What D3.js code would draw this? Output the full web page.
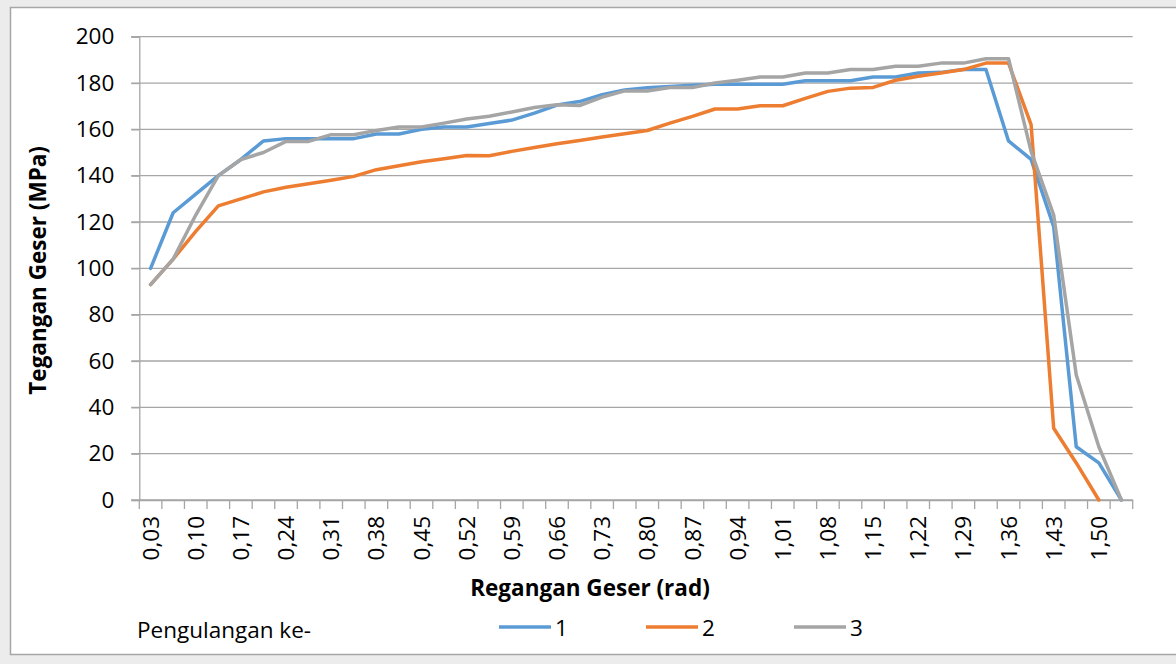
<!DOCTYPE html>
<html>
<head>
<meta charset="utf-8">
<script src="https://cdn.jsdelivr.net/npm/d3@7/dist/d3.min.js"></script>
<style>
  html, body { margin: 0; padding: 0; background: #ececec; }
  svg { display: block; }
</style>
</head>
<body>
<svg id="chart" width="1176" height="664"></svg>
<script>
const categories = ["0,03","0,07","0,10","0,14","0,17","0,21","0,24","0,28","0,31","0,35","0,38","0,42","0,45","0,49","0,52","0,56","0,59","0,63","0,66","0,70","0,73","0,77","0,80","0,84","0,87","0,91","0,94","0,98","1,01","1,05","1,08","1,12","1,15","1,19","1,22","1,26","1,29","1,33","1,36","1,40","1,43","1,47","1,50","1,54"];
const series1 = [100,124,132,140,147,155,156,156,156,156,158,158,160,161,161,162.5,164,167,170.5,172,175,177,178,178.5,179,179.5,179.5,179.5,179.5,181,181,181,182.6,182.6,184.3,184.6,185.8,185.8,155,147,118,23,16,0];
const series2 = [93,104,116,127,130,133,135,136.5,138,139.7,142.6,144.3,146,147.3,148.7,148.6,150.5,152.2,153.8,155.2,156.7,158.1,159.5,162.7,165.6,168.8,168.8,170.2,170.2,173.4,176.4,177.8,178.1,181.2,182.9,184.3,185.8,188.6,188.6,162,31,16,0,null];
const series3 = [93,104,123,140,147,150,154.8,154.8,157.7,157.7,159.5,161,161,162.7,164.5,165.7,167.5,169.4,170.6,170.3,173.9,176.6,176.6,178.1,178.1,180,181.2,182.6,182.6,184.3,184.3,185.8,185.8,187.2,187.2,188.6,188.6,190.5,190.5,150.5,123,54,23,0];
const seriesNames = ["1","2","3"];
const seriesColors = ["#5B9BD5","#ED7D31","#A5A5A5"];
const yTicks = [0,20,40,60,80,100,120,140,160,180,200];
const xLabelEvery = 2;
const yTitle = "Tegangan Geser (MPa)";
const xTitle = "Regangan Geser (rad)";
const legendTitle = "Pengulangan ke-";

const svg = d3.select("#chart");
const font = "'Open Sans', sans-serif";

// chart box
svg.append("rect").attr("x", 10.5).attr("y", 7.5).attr("width", 1180).attr("height", 647)
  .attr("fill", "#ffffff").attr("stroke", "#a6a6a6").attr("stroke-width", 1.5);

const pLeft = 139.3, pRight = 1132.7, pTop = 36.7, pBottom = 500;
const x = d3.scaleBand().domain(categories).range([pLeft, pRight]).padding(0);
const y = d3.scaleLinear().domain([0, 200]).range([pBottom, pTop]);

// gridlines
svg.append("g").selectAll("line").data(yTicks).join("line")
  .attr("x1", pLeft - 8).attr("x2", pRight)
  .attr("y1", d => y(d)).attr("y2", d => y(d))
  .attr("stroke", "#a6a6a6").attr("stroke-width", 1.3);

// y axis
const yAxis = svg.append("g").attr("transform", `translate(${pLeft},0)`)
  .call(d3.axisLeft(y).tickValues(yTicks).tickSize(8).tickPadding(17).tickFormat(d3.format("d")));
yAxis.select(".domain").attr("stroke", "#a6a6a6").attr("stroke-width", 1.3);
yAxis.selectAll(".tick line").attr("stroke", "#a6a6a6").attr("stroke-width", 1.3);
yAxis.selectAll("text").attr("font-family", font).attr("font-size", 22.5).attr("fill", "#000");

// x axis
const xAxis = svg.append("g").attr("transform", `translate(0,${pBottom})`)
  .call(d3.axisBottom(x).tickSize(0).tickFormat((d, i) => i % xLabelEvery === 0 ? d : ""));
xAxis.select(".domain").attr("stroke", "#a6a6a6").attr("stroke-width", 1.3);
xAxis.selectAll("text").attr("font-family", font).attr("font-size", 22.5).attr("fill", "#000")
  .attr("transform", "rotate(-90)").attr("text-anchor", "end")
  .attr("x", -16).attr("y", 0).attr("dy", "0.36em");
// category boundary ticks
const boundaries = categories.map(c => x(c)).concat([x(categories[categories.length - 1]) + x.bandwidth()]);
svg.append("g").selectAll("line").data(boundaries).join("line")
  .attr("x1", d => d).attr("x2", d => d).attr("y1", pBottom).attr("y2", pBottom + 9)
  .attr("stroke", "#a6a6a6").attr("stroke-width", 1.3);

// lines
const allSeries = [series1, series2, series3];
const line = d3.line()
  .defined(d => d.v !== null)
  .x(d => x(d.c) + x.bandwidth() / 2)
  .y(d => y(d.v));
allSeries.forEach((s, k) => {
  const data = categories.map((c, i) => ({ c, v: s[i] }));
  svg.append("path").datum(data).attr("d", line)
    .attr("fill", "none").attr("stroke", seriesColors[k]).attr("stroke-width", 3.5)
    .attr("stroke-linejoin", "round").attr("stroke-linecap", "round");
});

// axis titles
svg.append("text").attr("transform", `translate(46,${(pTop + pBottom) / 2 + 2}) rotate(-90)`)
  .attr("text-anchor", "middle").attr("font-family", font).attr("font-weight", "bold")
  .attr("font-size", 22.5).attr("fill", "#000").text(yTitle);
svg.append("text").attr("x", 590).attr("y", 596)
  .attr("text-anchor", "middle").attr("font-family", font).attr("font-weight", "bold")
  .attr("font-size", 22.5).attr("fill", "#000").text(xTitle);

// legend
svg.append("text").attr("x", 137).attr("y", 638).attr("font-family", font)
  .attr("font-size", 22.5).attr("fill", "#000").text(legendTitle);
const legendX = [499, 646, 794];
seriesNames.forEach((n, k) => {
  svg.append("line").attr("x1", legendX[k]).attr("x2", legendX[k] + 52)
    .attr("y1", 627).attr("y2", 627).attr("stroke", seriesColors[k]).attr("stroke-width", 3.5);
  svg.append("text").attr("x", legendX[k] + 56).attr("y", 636).attr("font-family", font)
    .attr("font-size", 22.5).attr("fill", "#000").text(n);
});
</script>
</body>
</html>
